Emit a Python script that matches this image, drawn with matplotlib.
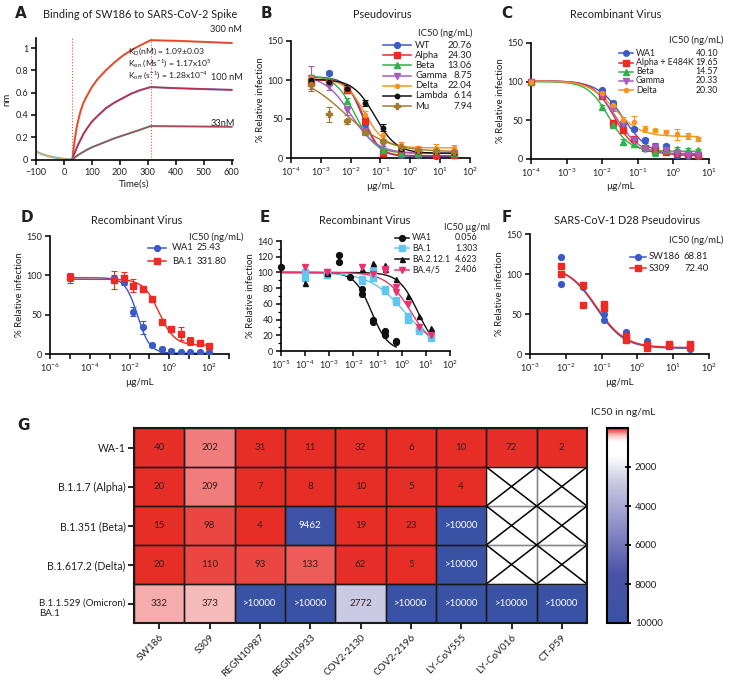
import numpy as np
import matplotlib
matplotlib.use('Agg')
import matplotlib.pyplot as plt
from matplotlib.colors import LinearSegmentedColormap, Normalize
from matplotlib.lines import Line2D
from matplotlib.patches import Rectangle
from matplotlib.ticker import FixedLocator, FixedFormatter, NullLocator
import matplotlib.transforms as mtransforms

# ======================= DATA =======================
# Panel A - BLI sensorgram (nm)
a_base_t = [-100, -80, -60, -40, -20, 0, 15, 30]
a_base_nm = [0.072, 0.05, 0.034, 0.022, 0.013, 0.006, 0.002, 0.0]
a_assoc_t = [30, 35, 40, 45, 50, 60, 70, 80, 100, 120, 150, 180, 210, 240, 270, 310]
a_assoc_300 = [0, 0.11, 0.20, 0.28, 0.34, 0.44, 0.51, 0.56, 0.65, 0.72, 0.80, 0.87, 0.93, 0.98, 1.02, 1.07]
a_assoc_100 = [0, 0.04, 0.07, 0.10, 0.13, 0.18, 0.23, 0.27, 0.34, 0.39, 0.46, 0.51, 0.55, 0.59, 0.62, 0.65]
a_assoc_33 = [0, 0.01, 0.02, 0.03, 0.04, 0.055, 0.07, 0.085, 0.11, 0.13, 0.16, 0.19, 0.215, 0.24, 0.265, 0.30]
a_dissoc_t = [310, 400, 500, 600]
a_dissoc_300 = [1.07, 1.065, 1.055, 1.045]
a_dissoc_100 = [0.65, 0.64, 0.632, 0.625]
a_dissoc_33 = [0.30, 0.298, 0.296, 0.294]
a_labels = ['300 nM', '100 nM', '33nM']
a_kin_text = [r'K$_\mathregular{D}$(nM) = 1.09±0.03',
              r'K$_\mathregular{on}$ (Ms$^\mathregular{-1}$) = 1.17x10$^\mathregular{5}$',
              r'K$_\mathregular{off}$ (s$^\mathregular{-1}$) = 1.28x10$^\mathregular{-4}$']

# Panel B - Pseudovirus
b_conc = [0.000458, 0.00183, 0.00732, 0.0293, 0.117, 0.469, 1.875, 7.5, 30]
b_names = ['WT', 'Alpha', 'Beta', 'Gamma', 'Delta', 'Lambda', 'Mu']
b_ic50_text = ['20.76', '24.30', '13.06', '8.75', '22.04', '6.14', '7.94']
b_vals = [
    [100, 109, 89, 43, 6, 4, 4, 3, 4],
    [97, 98, 87, 48, 6, 5, 5, 4, 4],
    [104, 99, 73, 34, 10, 6, 6, 10, 7],
    [103, 92, 61, 34, 18, 12, 9, 7, 6],
    [102, 98, 87, 55, 29, 17, 13, 13, 13],
    [100, 98, 89, 71, 39, 12, 9, 8, 7],
    [94, 56, 47, 33, 22, 14, 10, 9, 8],
]
b_err = [
    [5, 2, 4, 5, 3, 2, 2, 2, 2],
    [5, 3, 4, 4, 2, 2, 2, 2, 2],
    [3, 3, 4, 3, 3, 2, 2, 2, 2],
    [15, 5, 6, 4, 3, 2, 2, 2, 2],
    [3, 3, 4, 5, 5, 4, 3, 5, 4],
    [3, 3, 4, 4, 5, 2, 2, 2, 2],
    [8, 10, 3, 3, 3, 2, 2, 2, 2],
]
# 4PL fit parameters: top, bottom, EC50 (ug/mL), hill
b_fit = [(104, 2, 0.025, 1.6), (100, 3, 0.028, 1.7), (106, 6, 0.014, 1.3),
         (106, 6, 0.010, 1.0), (102, 13, 0.030, 1.3), (101, 6, 0.065, 1.2),
         (108, 8, 0.006, 0.6)]

# Panel C - Recombinant virus
c_conc = [0.0001, 0.0098, 0.0195, 0.039, 0.078, 0.156, 0.3125, 0.625, 1.25, 2.5, 5]
c_names = ['WA1', 'Alpha + E484K', 'Beta', 'Gamma', 'Delta']
c_ic50_text = ['40.10', '19.65', '14.57', '20.33', '20.30']
c_vals = [
    [100, 89, 73, 46, 39, 24, 16, 17, 5, 4, 4],
    [100, 82, 46, 37, 26, 14, 11, 9, 8, 7, 5],
    [100, 67, 44, 22, 19, 16, 9, 12, 13, 12, 11],
    [100, 81, 66, 45, 25, 13, 15, 11, 8, 5, 5],
    [100, 85, 70, 51, 48, 39, 37, 35, 32, 30, 26],
]
c_err = [
    [1, 2, 2, 3, 3, 3, 5, 3, 2, 1, 1],
    [1, 3, 4, 4, 3, 2, 2, 2, 2, 2, 3],
    [1, 3, 3, 4, 3, 2, 5, 3, 3, 2, 2],
    [1, 3, 4, 4, 3, 2, 5, 5, 3, 2, 2],
    [1, 2, 3, 3, 7, 4, 2, 2, 7, 4, 3],
]
c_fit = [(101, 4, 0.040, 1.2), (101, 7, 0.022, 1.5), (100, 10, 0.015, 1.5),
         (101, 6, 0.025, 1.3), (101, 29, 0.022, 1.2)]

# Panel D - Recombinant virus
d_conc = [1e-5, 0.0017, 0.0051, 0.0152, 0.0457, 0.137, 0.412, 1.23, 3.70, 11.1, 33.3, 100]
d_names = ['WA1', 'BA.1']
d_ic50_text = ['25.43', '331.80']
d_vals = [
    [96, 96, 92, 54, 34, 11, 6, 4, 3, 2, 2, 2],
    [98, 94, 96, 87, 82, 70, 41, 32, 26, 16, 14, 10],
]
d_err = [
    [6, 5, 3, 6, 8, 2, 3, 2, 1, 1, 1, 1],
    [5, 12, 8, 8, 2, 3, 2, 2, 8, 5, 3, 2],
]
d_fit = [(97, 1, 0.025, 1.4), (95, 11, 0.30, 1.1)]

# Panel E - Recombinant virus (replicates)
e_names = ['WA1', 'BA.1', 'BA.2.12.1', 'BA.4/5']
e_ic50_text = ['0.056', '1.303', '4.623', '2.406']
e_conc = [
    [1e-5, 0.00081, 0.00081, 0.00244, 0.00244, 0.0073, 0.0219, 0.0219, 0.0658, 0.0658, 0.198, 0.198, 0.593, 0.593],
    [1e-4, 1e-4, 0.00081, 0.00081, 0.0219, 0.0219, 0.0658, 0.0658, 0.198, 0.198, 0.593, 0.593, 1.78, 1.78, 5.33, 5.33, 16, 16],
    [1e-4, 0.00081, 0.00081, 0.0219, 0.0658, 0.198, 0.198, 0.593, 1.78, 5.33, 16],
    [1e-4, 0.00081, 0.0219, 0.0658, 0.198, 0.198, 0.593, 0.593, 1.78, 5.33, 16],
]
e_vals = [
    [107, 101, 98, 122, 113, 94, 79, 72, 40, 37, 26, 20, 13, 12],
    [100, 93, 100, 97, 92, 89, 103, 93, 79, 77, 65, 62, 44, 40, 27, 25, 20, 17],
    [86, 100, 99, 105, 112, 110, 105, 92, 70, 44, 29],
    [107, 100, 107, 98, 105, 102, 82, 75, 60, 30, 20],
]
e_fit = [(100, 0, 0.056, 1.25), (100, 0, 1.303, 0.6), (100, 0, 4.623, 1.1), (100, 0, 2.406, 0.85)]

# Panel F - SARS-CoV-1 D28 pseudovirus (replicates)
f_conc = [0.0073, 0.0073, 0.0293, 0.0293, 0.117, 0.117, 0.469, 0.469, 1.875, 1.875, 7.5, 7.5, 30, 30]
f_names = ['SW186', 'S309']
f_ic50_text = ['68.81', '72.40']
f_vals = [
    [121, 88, 86, 84, 50, 42, 27, 20, 16, 14, 13, 11, 8, 6],
    [110, 100, 86, 61, 63, 57, 23, 18, 11, 8, 12, 10, 12, 9],
]
f_fit = [(110, 7, 0.069, 1.1), (110, 8, 0.072, 1.1)]

# Panel G - heatmap IC50 (ng/mL)
g_cols = ['SW186', 'S309', 'REGN10987', 'REGN10933', 'COV2-2130', 'COV2-2196',
          'LY-CoV555', 'LY-CoV016', 'CT-P59']
g_rows = ['WA-1', 'B.1.1.7 (Alpha)', 'B.1.351 (Beta)', 'B.1.617.2 (Delta)',
          'B.1.1.529 (Omicron)\nBA.1']
g_vals = [
    ['40', '202', '31', '11', '32', '6', '10', '72', '2'],
    ['20', '209', '7', '8', '10', '5', '4', None, None],
    ['15', '98', '4', '9462', '19', '23', '>10000', None, None],
    ['20', '110', '93', '133', '62', '5', '>10000', None, None],
    ['332', '373', '>10000', '>10000', '2772', '>10000', '>10000', '>10000', '>10000'],
]
g_cbar_ticks = [2000, 4000, 6000, 8000, 10000]

# ======================= STYLE =======================
plt.rcParams['font.family'] = ['Lato', 'DejaVu Sans']
plt.rcParams['mathtext.fontset'] = 'custom'
plt.rcParams['mathtext.rm'] = 'Lato'
plt.rcParams['mathtext.it'] = 'Lato:italic'
plt.rcParams['mathtext.bf'] = 'Lato:bold'
plt.rcParams['axes.linewidth'] = 1.2

W, H = 730, 680
fig = plt.figure(figsize=(W / 100, H / 100), dpi=100)
fig.patch.set_facecolor('white')

TXT = '#231f20'
FS_T = 7.8   # titles
FS_K = 6.6   # ticks
FS_L = 7.0   # legend / labels
LETTER_FONT = ['Liberation Sans Narrow', 'DejaVu Sans']


def box(l, t, r, b):
    return fig.add_axes([l / W, 1 - b / H, (r - l) / W, (b - t) / H])


def ftext(x, y, s, **kw):
    kw.setdefault('color', TXT)
    return fig.text(x / W, 1 - y / H, s, **kw)


def letter(x, y, s):
    ftext(x, y, s, fontsize=11, fontweight='bold', family=LETTER_FONT,
          ha='center', va='center')


def style(ax):
    for s in ['top', 'right']:
        ax.spines[s].set_visible(False)
    for s in ['left', 'bottom']:
        ax.spines[s].set_linewidth(1.2)
        ax.spines[s].set_color('black')
    ax.tick_params(direction='out', length=3.5, width=1.1, labelsize=FS_K,
                   colors='black', labelcolor=TXT, pad=2)
    ax.patch.set_alpha(0)


def logx(ax, lo, hi, every=1):
    ax.set_xscale('log')
    ax.set_xlim(10.0 ** lo, 10.0 ** hi)
    exps = list(range(lo, hi + 1))
    ax.xaxis.set_major_locator(FixedLocator([10.0 ** e for e in exps]))
    ax.xaxis.set_major_formatter(FixedFormatter(
        [r'$\mathregular{10^{%d}}$' % e if (e - lo) % every == 0 else '' for e in exps]))
    ax.xaxis.set_minor_locator(NullLocator())


def fourpl(x, top, bottom, ec50, hill):
    return bottom + (top - bottom) / (1 + (x / ec50) ** hill)


def leg_row(y, x0, x1, xname, name, color, marker, ms, xval=None, val=None,
            val_ha='right', fs=FS_L):
    fig.add_artist(Line2D([x0 / W, x1 / W], [1 - y / H] * 2, color=color, lw=1.1,
                          transform=fig.transFigure))
    fig.add_artist(Line2D([(x0 + x1) / 2 / W], [1 - y / H], color=color, marker=marker,
                          ms=ms, lw=0, transform=fig.transFigure))
    ftext(xname, y, name, fontsize=fs, ha='left', va='center')
    if val is not None:
        ftext(xval, y, val, fontsize=fs, ha=val_ha, va='center')


# ======================= PANEL A =======================
axA = box(36, 38, 233, 160)
style(axA)
axA.set_xlim(-100, 605)
axA.set_ylim(-0.004, 1.09)
axA.set_xticks(range(-100, 601, 100))
axA.set_yticks([0, 0.2, 0.4, 0.6, 0.8, 1.0])
axA.set_yticklabels(['0', '0.2', '0.4', '0.6', '0.8', '1'])
axA.axvline(a_assoc_t[0], color='#d9534f', ls=':', lw=0.8)
axA.axvline(a_assoc_t[-1], color='#d9534f', ls=':', lw=0.8)
axA.plot(a_base_t, a_base_nm, color='#6fa8dc', lw=1.6)
axA.plot(a_base_t, a_base_nm, color='#e9b44c', lw=0.8)
trace_cols = ['#e0704a', '#8a5a9a', '#5aa07a']
fit_cols = ['#e8402a', '#c8283c', '#b0405a']
for assoc, diss, tc, fc in zip([a_assoc_300, a_assoc_100, a_assoc_33],
                               [a_dissoc_300, a_dissoc_100, a_dissoc_33],
                               trace_cols, fit_cols):
    t = a_assoc_t + a_dissoc_t[1:]
    v = assoc + diss[1:]
    axA.plot(t, v, color=tc, lw=1.5)
    axA.plot(t, v, color=fc, lw=0.8)
axA.set_xlabel('Time(s)', fontsize=FS_L, color=TXT, labelpad=2)
axA.set_ylabel('nm', fontsize=FS_L, color=TXT, labelpad=3)
ftext(140, 15, 'Binding of SW186 to SARS-CoV-2 Spike', fontsize=FS_T, ha='center', va='center')
letter(21, 14, 'A')
ftext(242, 30, a_labels[0], fontsize=6.6, ha='right', va='center')
ftext(243, 77, a_labels[1], fontsize=6.6, ha='right', va='center')
ftext(235, 123, a_labels[2], fontsize=6.6, ha='right', va='center')
for i, s in enumerate(a_kin_text):
    ftext(128, 51 + 12.2 * i, s, fontsize=6.1, ha='left', va='center')

# ======================= PANEL B =======================
b_cols = ['#3a5bc7', '#ee2a24', '#2db34a', '#a45cc0', '#f7941d', '#111111', '#a27a2c']
b_marks = ['o', 's', '^', 'v', 'o', 'o', 'P']
b_ms = [4.2, 4.0, 4.2, 4.2, 3.0, 3.2, 4.2]
axB = box(291, 41, 470, 158)
style(axB)
logx(axB, -4, 2)
axB.set_ylim(0, 150)
axB.set_yticks([0, 50, 100, 150])
xs = np.logspace(np.log10(b_conc[0]), np.log10(b_conc[-1]), 300)
for vals, err, fit, c, m, ms in zip(b_vals, b_err, b_fit, b_cols, b_marks, b_ms):
    axB.plot(xs, fourpl(xs, *fit), color=c, lw=1.0, zorder=2)
    axB.errorbar(b_conc, vals, yerr=err, fmt=m, color=c, ms=ms, capsize=2,
                 elinewidth=0.8, capthick=0.8, zorder=3, clip_on=False)
axB.set_xlabel('µg/mL', fontsize=FS_L, color=TXT, labelpad=3)
axB.set_ylabel('% Relative infection', fontsize=FS_L, color=TXT, labelpad=2)
ftext(382, 14, 'Pseudovirus', fontsize=FS_T, ha='center', va='center')
letter(266, 13, 'B')
ftext(472, 33, 'IC50 (ng/mL)', fontsize=6.8, ha='right', va='center')
for i in range(len(b_names)):
    leg_row(45 + 10.2 * i, 383, 411, 415, b_names[i], b_cols[i], b_marks[i], b_ms[i],
            472, b_ic50_text[i], fs=6.8)

# ======================= PANEL C =======================
c_cols = ['#3a5bc7', '#ee2a24', '#2db34a', '#a45cc0', '#f7941d']
c_marks = ['o', 's', '^', 'v', 'o']
c_ms = [4.0, 3.8, 4.0, 4.0, 3.0]
axC = box(531, 43, 709, 159)
style(axC)
logx(axC, -4, 1)
axC.set_ylim(0, 150)
axC.set_yticks([0, 50, 100, 150])
xs = np.logspace(np.log10(c_conc[0]), np.log10(c_conc[-1]), 300)
for vals, err, fit, c, m, ms in zip(c_vals, c_err, c_fit, c_cols, c_marks, [4.2, 4.0, 4.2, 4.2, 3.0]):
    axC.plot(xs, fourpl(xs, *fit), color=c, lw=1.0, zorder=2)
    axC.errorbar(c_conc, vals, yerr=err, fmt=m, color=c, ms=ms, capsize=2,
                 elinewidth=0.8, capthick=0.8, zorder=3, clip_on=False)
axC.set_xlabel('µg/mL', fontsize=FS_L, color=TXT, labelpad=2)
axC.set_ylabel('% Relative infection', fontsize=FS_L, color=TXT, labelpad=2)
ftext(616, 14, 'Recombinant Virus', fontsize=FS_T, ha='center', va='center')
letter(507, 13, 'C')
ftext(723, 40, 'IC50 (ng/mL)', fontsize=6.8, ha='right', va='center')
for i in range(len(c_names)):
    leg_row(53.3 + 9.2 * i, 619, 633, 636, c_names[i], c_cols[i], c_marks[i], c_ms[i],
            718, c_ic50_text[i], fs=6.3)

# ======================= PANEL D =======================
d_cols = ['#3a5bc7', '#ee2a24']
d_marks = ['o', 's']
axD = box(50, 236, 229, 354)
style(axD)
logx(axD, -6, 3, every=2)
axD.set_ylim(0, 150)
axD.set_yticks([0, 50, 100, 150])
xs = np.logspace(np.log10(d_conc[0]), np.log10(d_conc[-1]), 300)
for vals, err, fit, c, m in zip(d_vals, d_err, d_fit, d_cols, d_marks):
    axD.plot(xs, fourpl(xs, *fit), color=c, lw=1.0, zorder=2)
    axD.errorbar(d_conc, vals, yerr=err, fmt=m, color=c, ms=4.2, capsize=2,
                 elinewidth=0.8, capthick=0.8, zorder=3, ecolor=c, alpha=1)
axD.set_xlabel('µg/mL', fontsize=FS_L, color=TXT, labelpad=3)
axD.set_ylabel('% Relative infection', fontsize=FS_L, color=TXT, labelpad=2)
ftext(137, 220, 'Recombinant Virus', fontsize=FS_T, ha='center', va='center')
letter(27, 218, 'D')
ftext(243, 237, 'IC50 (ng/mL)', fontsize=6.8, ha='right', va='center')
for i in range(len(d_names)):
    leg_row(248 + 13 * i, 148, 166, 172, d_names[i], d_cols[i], d_marks[i], 4.2,
            197, d_ic50_text[i], val_ha='left', fs=6.8)

# ======================= PANEL E =======================
e_cols = ['#111111', '#62c6ef', '#111111', '#e8336f']
e_marks = ['o', 's', '^', 'v']
e_ms = [4.2, 4.5, 3.6, 4.0]
axE = box(281, 241, 450, 351)
style(axE)
logx(axE, -5, 2)
axE.set_ylim(0, 140)
axE.set_yticks(range(0, 141, 20))
axE.set_yticks(range(10, 141, 20), minor=True)
axE.tick_params(which='minor', length=2.2, width=0.9)
for conc, vals, fit, c, m, ms in zip(e_conc, e_vals, e_fit, e_cols, e_marks, e_ms):
    xs = np.logspace(-5, np.log10(max(conc)), 300)
    axE.plot(xs, fourpl(xs, *fit), color=c, lw=1.0, zorder=2)
    axE.plot(conc, vals, m, color=c, ms=ms, zorder=3, clip_on=False)
axE.set_ylabel('% Relative infection', fontsize=FS_L, color=TXT, labelpad=2)
ftext(365, 220, 'Recombinant Virus', fontsize=FS_T, ha='center', va='center')
letter(265, 218, 'E')
ftext(444, 227.5, 'IC50 µg/ml', fontsize=6.6, ha='left', va='center')
for i in range(len(e_names)):
    leg_row(237.5 + 10.8 * i, 395, 409, 412, e_names[i], e_cols[i], e_marks[i], e_ms[i],
            455, e_ic50_text[i], val_ha='left', fs=6.3)

# ======================= PANEL F =======================
f_cols = ['#3a5bc7', '#ee2a24']
f_marks = ['o', 's']
axF = box(530, 234, 709, 354)
style(axF)
logx(axF, -3, 2)
axF.set_ylim(0, 150)
axF.set_yticks([0, 50, 100, 150])
xs = np.logspace(np.log10(f_conc[0]), np.log10(f_conc[-1]), 300)
for vals, fit, c, m in zip(f_vals, f_fit, f_cols, f_marks):
    axF.plot(xs, fourpl(xs, *fit), color=c, lw=1.0, zorder=2)
    axF.plot(f_conc, vals, m, color=c, ms=4.2, zorder=3)
axF.set_xlabel('µg/mL', fontsize=FS_L, color=TXT, labelpad=3)
axF.set_ylabel('% Relative infection', fontsize=FS_L, color=TXT, labelpad=2)
ftext(627, 220, 'SARS-CoV-1 D28 Pseudovirus', fontsize=FS_T, ha='center', va='center')
letter(507, 218, 'F')
ftext(723, 240, 'IC50 (ng/mL)', fontsize=6.8, ha='right', va='center')
for i in range(len(f_names)):
    leg_row(256.7 + 11.6 * i, 630, 646, 649, f_names[i], f_cols[i], f_marks[i], 4.2,
            684, f_ic50_text[i], val_ha='left', fs=6.8)

# ======================= PANEL G =======================
nodes = [(0, '#e62e26'), (45, '#e7302a'), (100, '#ee5552'), (210, '#f18282'),
         (380, '#f7c8c8'), (700, '#ffffff'), (1400, '#ffffff'), (2800, '#c8c8e3'),
         (5000, '#8d8fc8'), (7500, '#4a52a6'), (10000, '#3a52a4')]
cmap = LinearSegmentedColormap.from_list('ic50', [(v / 10000, c) for v, c in nodes])
cmap.set_bad('white')
norm = Normalize(0, 10000)

nr, nc = len(g_rows), len(g_cols)
num = np.full((nr, nc), np.nan)
for i in range(nr):
    for j in range(nc):
        s = g_vals[i][j]
        if s is not None:
            num[i, j] = float(s.replace('>', ''))

axG = box(134, 428, 587, 623)
im = axG.imshow(num, cmap=cmap, norm=norm, aspect='auto',
                extent=(-0.5, nc - 0.5, nr - 0.5, -0.5), interpolation='nearest')
axG.set_xlim(-0.5, nc - 0.5)
axG.set_ylim(nr - 0.5, -0.5)
# missing cells: grey grid + cross
for i in range(nr):
    for j in range(nc):
        if g_vals[i][j] is None:
            axG.add_patch(Rectangle((j - 0.5, i - 0.5), 1, 1, fill=False, ec='#8a8a8a', lw=1.0, zorder=2))
            axG.plot([j - 0.5, j + 0.5], [i - 0.5, i + 0.5], color='black', lw=1.1, zorder=3)
            axG.plot([j - 0.5, j + 0.5], [i + 0.5, i - 0.5], color='black', lw=1.1, zorder=3)
for i in range(nr):
    for j in range(nc):
        s = g_vals[i][j]
        if s is not None:
            axG.add_patch(Rectangle((j - 0.5, i - 0.5), 1, 1, fill=False, ec='#1a1a1a', lw=1.0, zorder=4))
            dark = num[i, j] > 5000
            axG.text(j, i, s, ha='center', va='center', fontsize=7,
                     color='white' if dark else '#3a1c1c', zorder=5)
for s in axG.spines.values():
    s.set_linewidth(1.5)
    s.set_color('#1a1a1a')
    s.set_zorder(6)
axG.set_xticks(range(nc))
axG.set_xticklabels(g_cols, rotation=45, ha='right', rotation_mode='anchor', fontsize=7.2, color=TXT)
axG.set_yticks(range(nr))
axG.set_yticklabels(g_rows, fontsize=7.6, color=TXT)
axG.tick_params(direction='out', length=4, width=1.2, colors='black', pad=2)
axG.tick_params(axis='x', pad=3)
axG.tick_params(axis='y', labelcolor=TXT)
axG.tick_params(axis='x', labelcolor=TXT)
lab = axG.get_yticklabels()[-1]
lab.set_fontsize(7.0)
lab.set_multialignment('left')
lab.set_va('top')
lab.set_transform(lab.get_transform() + mtransforms.ScaledTranslation(0, 3.8 / 72, fig.dpi_scale_trans))
letter(23, 425, 'G')

cax = box(607, 428, 628, 623)
cb = fig.colorbar(im, cax=cax)
cax.set_ylim(10000, 0)
cb.set_ticks(g_cbar_ticks)
cb.set_ticklabels([str(t) for t in g_cbar_ticks])
cb.outline.set_linewidth(1.5)
cax.tick_params(direction='inout', length=4, width=1.3, labelsize=7, colors='black', labelcolor=TXT, pad=3)
ftext(623, 413, 'IC50 in ng/mL', fontsize=7.4, ha='center', va='center')

fig.savefig('out.png', dpi=100, facecolor='white')
